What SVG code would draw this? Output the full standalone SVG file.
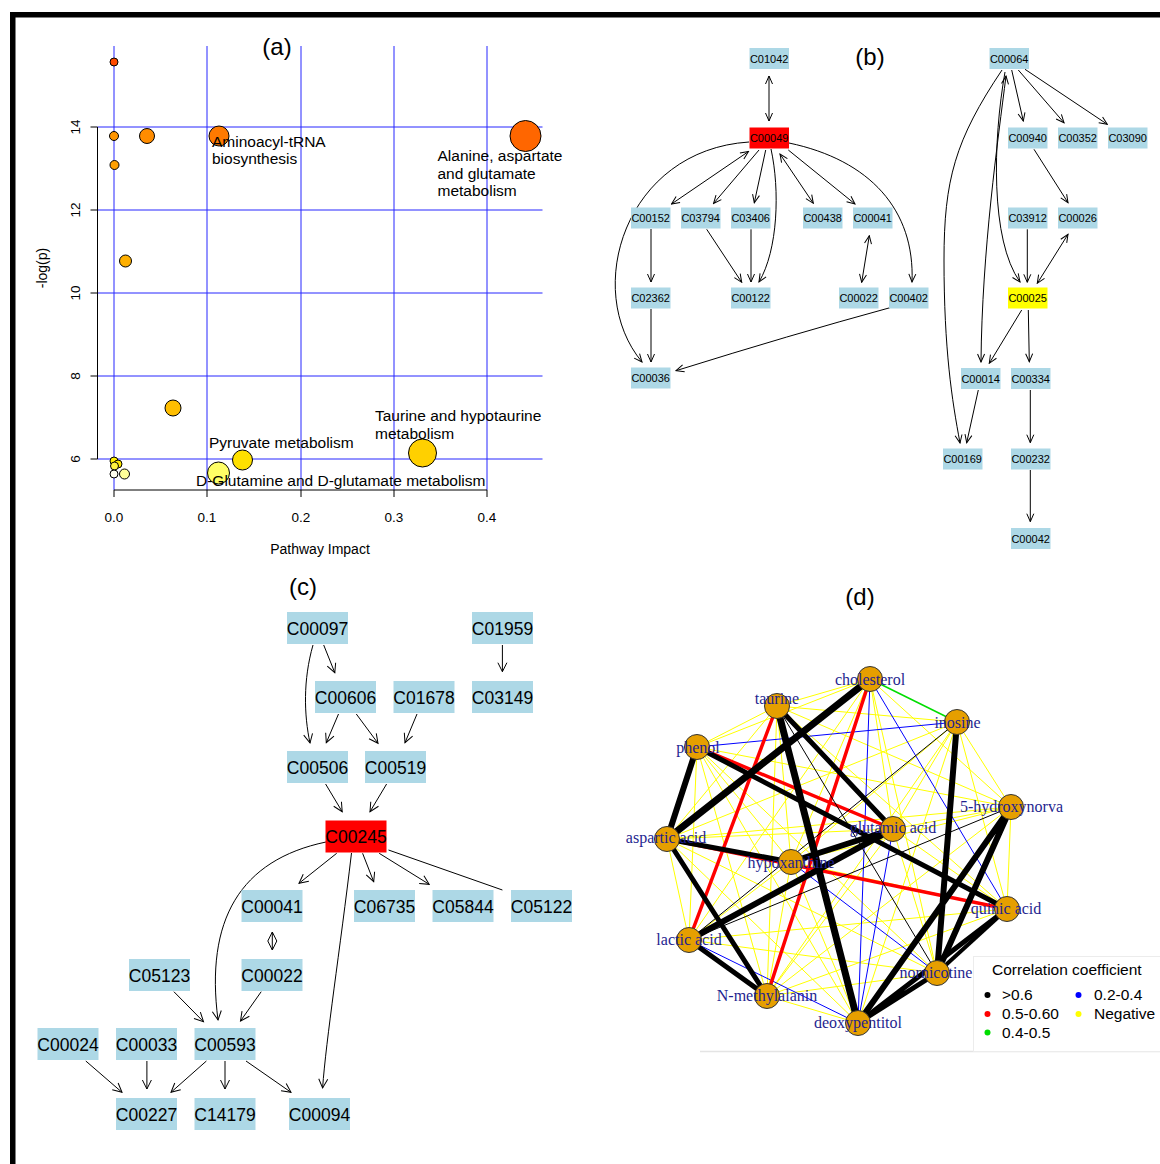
<svg xmlns="http://www.w3.org/2000/svg" width="1160" height="1164" viewBox="0 0 1160 1164">
<style>
text{font-family:"Liberation Sans",Arial,sans-serif;fill:#000}
.ttl{font-size:24px;text-anchor:middle}
.tick{font-size:13.5px;text-anchor:middle}
.xl{font-size:14px;text-anchor:middle}
.lab{font-size:15.5px}
.grid{stroke:#2626ff;stroke-width:1}
.ax{stroke:#000;stroke-width:1;fill:none}
.pt{stroke:#000;stroke-width:1}
.nb rect{fill:#ADD8E6}
.nb text{font-size:11px;text-anchor:middle}
.nc rect{fill:#ADD8E6}
.nc text{font-size:17.5px;text-anchor:middle}
.e{stroke:#000;stroke-width:1;fill:none}
.eb{marker-end:url(#ah)}
.ed{marker-end:url(#ah);marker-start:url(#ah)}
.ec{marker-end:url(#ahc)}
.ecd{marker-end:url(#ahc);marker-start:url(#ahc)}
.nd circle{fill:#E69F00;stroke:#333;stroke-width:1}
.nd text{font-family:"Liberation Serif","Times New Roman",serif;font-size:16px;fill:#1f1f8f;text-anchor:middle}
.y{stroke:#FFFF00;stroke-width:1}
.bl{stroke:#0000FF;stroke-width:1}
.g{stroke:#00DD00;stroke-width:1.5}
.r{stroke:#FF0000;stroke-width:3.5}
.k{stroke:#000}
.leg{font-size:15.5px}
</style>
<defs>
<marker id="ah" markerUnits="userSpaceOnUse" markerWidth="10" markerHeight="10" refX="9" refY="5" orient="auto-start-reverse">
<path d="M1,1.5 L9,5 L1,8.5" fill="none" stroke="#000" stroke-width="1"/>
</marker>
<marker id="ahc" markerUnits="userSpaceOnUse" markerWidth="12" markerHeight="12" refX="10" refY="6" orient="auto-start-reverse">
<path d="M1,1.5 L10,6 L1,10.5" fill="none" stroke="#000" stroke-width="1"/>
</marker>
</defs>
<rect width="1160" height="1164" fill="#fff"/>
<!-- frame -->
<rect x="10" y="12" width="1150" height="5.5" fill="#000"/>
<rect x="10" y="12" width="5.5" height="1152" fill="#000"/>

<!-- Panel (a) -->
<g id="panel-a">
<text class="ttl" x="277" y="55">(a)</text>
<g id="grid-a">
<line class="grid" x1="114" y1="46" x2="114" y2="490"/>
<line class="grid" x1="207" y1="46" x2="207" y2="490"/>
<line class="grid" x1="301" y1="46" x2="301" y2="490"/>
<line class="grid" x1="394" y1="46" x2="394" y2="490"/>
<line class="grid" x1="487" y1="46" x2="487" y2="490"/>
<line class="grid" x1="97.5" y1="127" x2="542.5" y2="127"/>
<line class="grid" x1="97.5" y1="210" x2="542.5" y2="210"/>
<line class="grid" x1="97.5" y1="293" x2="542.5" y2="293"/>
<line class="grid" x1="97.5" y1="376" x2="542.5" y2="376"/>
<line class="grid" x1="97.5" y1="459" x2="542.5" y2="459"/>
</g>
<g id="axes-a">
<path class="ax" d="M97.5,127 V459 M90.5,127 H97.5 M90.5,210 H97.5 M90.5,293 H97.5 M90.5,376 H97.5 M90.5,459 H97.5"/>
<path class="ax" d="M114,490 H487 M114,490 V497 M207,490 V497 M301,490 V497 M394,490 V497 M487,490 V497"/>
<text class="tick" transform="translate(80,127) rotate(-90)">14</text>
<text class="tick" transform="translate(80,210) rotate(-90)">12</text>
<text class="tick" transform="translate(80,293) rotate(-90)">10</text>
<text class="tick" transform="translate(80,376) rotate(-90)">8</text>
<text class="tick" transform="translate(80,459) rotate(-90)">6</text>
<text class="tick" x="114" y="522">0.0</text>
<text class="tick" x="207" y="522">0.1</text>
<text class="tick" x="301" y="522">0.2</text>
<text class="tick" x="394" y="522">0.3</text>
<text class="tick" x="487" y="522">0.4</text>
<text class="xl" x="320" y="554">Pathway Impact</text>
<text class="xl" transform="translate(47,268) rotate(-90)">-log(p)</text>
</g>
<g id="points-a">
<circle class="pt" cx="114" cy="62" r="4" fill="#FF4A00"/>
<circle class="pt" cx="114" cy="136" r="4.5" fill="#FF9500"/>
<circle class="pt" cx="147" cy="136" r="7.5" fill="#FF8C00"/>
<circle class="pt" cx="219" cy="136" r="10" fill="#FF7A00"/>
<circle class="pt" cx="525.5" cy="136" r="15.5" fill="#FF6600"/>
<circle class="pt" cx="114.5" cy="165" r="4.5" fill="#FFA000"/>
<circle class="pt" cx="125.5" cy="261" r="6" fill="#FFB000"/>
<circle class="pt" cx="173" cy="408" r="8" fill="#FFBE00"/>
<circle class="pt" cx="242.5" cy="460" r="10" fill="#FFE000"/>
<circle class="pt" cx="422.5" cy="453" r="14" fill="#FFD000"/>
<circle class="pt" cx="218.5" cy="473" r="11" fill="#FFFF66"/>
<circle class="pt" cx="114" cy="461" r="4" fill="#FFEE00"/>
<circle class="pt" cx="118" cy="464" r="4" fill="#FFE800"/>
<circle class="pt" cx="114.5" cy="466" r="4" fill="#FFF440"/>
<circle class="pt" cx="124.5" cy="474" r="5" fill="#FFFF99"/>
<circle class="pt" cx="114" cy="474" r="4" fill="#FFFFF0"/>
</g>
<g id="labels-a">
<text class="lab" x="212" y="147">Aminoacyl-tRNA</text>
<text class="lab" x="212" y="164">biosynthesis</text>
<text class="lab" x="437.5" y="161">Alanine, aspartate</text>
<text class="lab" x="437.5" y="178.5">and glutamate</text>
<text class="lab" x="437.5" y="196">metabolism</text>
<text class="lab" x="375" y="421">Taurine and hypotaurine</text>
<text class="lab" x="375" y="438.5">metabolism</text>
<text class="lab" x="209" y="448">Pyruvate metabolism</text>
<text class="lab" x="196" y="486">D-Glutamine and D-glutamate metabolism</text>
</g>
</g>

<!-- Panel (b) -->
<text class="ttl" x="870" y="65">(b)</text>
<g id="edges-b">
<path class="e ed" d="M769,76 L769,121"/>
<path class="e ed" d="M748.5,151.5 L671.5,204"/>
<path class="e eb" d="M759,150 L713.5,203.5"/>
<path class="e eb" d="M765.7,150 L754.3,202.7"/>
<path class="e eb" d="M771,149 C780,190 778,250 759,282"/>
<path class="e ed" d="M780,154 L813.3,203.3"/>
<path class="e eb" d="M788.3,150 L855,204"/>
<path class="e eb" d="M789,143 C870,160 915,210 912,282"/>
<path class="e eb" d="M749,142 C625,150 582,290 642,362"/>
<path class="e eb" d="M651,229 L651,282"/>
<path class="e eb" d="M706.7,229.3 L741.7,282.3"/>
<path class="e eb" d="M751,229.3 L751,282"/>
<path class="e ed" d="M861.7,282.3 L869.3,235.7"/>
<path class="e eb" d="M651,309 L651,362"/>
<path class="e eb" d="M890,307.7 Q790,335 676,370.7"/>
<path class="e eb" d="M1011.7,70 L1023.3,121"/>
<path class="e eb" d="M1018.3,70 L1064,122.7"/>
<path class="e eb" d="M1025,69.3 L1107.3,124.3"/>
<path class="e eb" d="M1034,149.3 L1068,202.7"/>
<path class="e eb" d="M1027.3,229.3 L1027.3,282.3"/>
<path class="e ed" d="M1068,234.3 L1037.3,283.3"/>
<path class="e eb" d="M1005,72 C993,140 990,240 1020,282"/>
<path class="e ed" d="M1006,76 C998,140 982,250 981,362"/>
<path class="e eb" d="M1002,70 C955,140 944,180 944,260 C944,350 952,400 960,443"/>
<path class="e eb" d="M1021.7,310 L989.3,363.3"/>
<path class="e eb" d="M1028.3,310 L1029.3,361.7"/>
<path class="e eb" d="M978.3,390 L966.7,442.7"/>
<path class="e eb" d="M1030.3,390 L1030.3,442.7"/>
<path class="e eb" d="M1030.3,470 L1030.3,521.7"/>
</g>
<g id="b-C01042" class="nb"><rect x="749.5" y="48" width="39.5" height="21"/><text x="769.2" y="62.5">C01042</text></g>
<g id="b-C00049" class="nb"><rect x="749.5" y="127.5" width="39.5" height="21" style="fill:#FF0000"/><text x="769.2" y="142">C00049</text></g>
<g id="b-C00152" class="nb"><rect x="631" y="207.5" width="39.5" height="21"/><text x="650.7" y="222">C00152</text></g>
<g id="b-C03794" class="nb"><rect x="681" y="207.5" width="39.5" height="21"/><text x="700.7" y="222">C03794</text></g>
<g id="b-C03406" class="nb"><rect x="731" y="207.5" width="39.5" height="21"/><text x="750.7" y="222">C03406</text></g>
<g id="b-C00438" class="nb"><rect x="803" y="207.5" width="39.5" height="21"/><text x="822.7" y="222">C00438</text></g>
<g id="b-C00041" class="nb"><rect x="853" y="207.5" width="39.5" height="21"/><text x="872.7" y="222">C00041</text></g>
<g id="b-C02362" class="nb"><rect x="631" y="287.5" width="39.5" height="21"/><text x="650.7" y="302">C02362</text></g>
<g id="b-C00122" class="nb"><rect x="731" y="287.5" width="39.5" height="21"/><text x="750.7" y="302">C00122</text></g>
<g id="b-C00022" class="nb"><rect x="839" y="287.5" width="39.5" height="21"/><text x="858.7" y="302">C00022</text></g>
<g id="b-C00402" class="nb"><rect x="889" y="287.5" width="39.5" height="21"/><text x="908.7" y="302">C00402</text></g>
<g id="b-C00036" class="nb"><rect x="631" y="367.5" width="39.5" height="21"/><text x="650.7" y="382">C00036</text></g>
<g id="b-C00064" class="nb"><rect x="989.5" y="48" width="39.5" height="21"/><text x="1009.2" y="62.5">C00064</text></g>
<g id="b-C00940" class="nb"><rect x="1008" y="127.5" width="39.5" height="21"/><text x="1027.7" y="142">C00940</text></g>
<g id="b-C00352" class="nb"><rect x="1058" y="127.5" width="39.5" height="21"/><text x="1077.7" y="142">C00352</text></g>
<g id="b-C03090" class="nb"><rect x="1108" y="127.5" width="39.5" height="21"/><text x="1127.7" y="142">C03090</text></g>
<g id="b-C03912" class="nb"><rect x="1008" y="207.5" width="39.5" height="21"/><text x="1027.7" y="222">C03912</text></g>
<g id="b-C00026" class="nb"><rect x="1058" y="207.5" width="39.5" height="21"/><text x="1077.7" y="222">C00026</text></g>
<g id="b-C00025" class="nb"><rect x="1008" y="287.5" width="39.5" height="21" style="fill:#FFFF00"/><text x="1027.7" y="302">C00025</text></g>
<g id="b-C00014" class="nb"><rect x="961" y="368" width="39.5" height="21"/><text x="980.7" y="382.5">C00014</text></g>
<g id="b-C00334" class="nb"><rect x="1011" y="368" width="39.5" height="21"/><text x="1030.7" y="382.5">C00334</text></g>
<g id="b-C00169" class="nb"><rect x="943" y="448.5" width="39.5" height="21"/><text x="962.7" y="463">C00169</text></g>
<g id="b-C00232" class="nb"><rect x="1011" y="448.5" width="39.5" height="21"/><text x="1030.7" y="463">C00232</text></g>
<g id="b-C00042" class="nb"><rect x="1011" y="528" width="39.5" height="21"/><text x="1030.7" y="542.5">C00042</text></g>

<!-- Panel (c) -->
<text class="ttl" x="303" y="595">(c)</text>
<g id="edges-c">
<path class="e ec" d="M313,645 C303,680 304,715 310,743"/>
<path class="e ec" d="M323.7,645 L334.8,672.7"/>
<path class="e ec" d="M338.5,714 L326.3,742.7"/>
<path class="e ec" d="M356.3,714 L378,743.3"/>
<path class="e ec" d="M417,714 L405,742.7"/>
<path class="e ec" d="M502.4,645 L502.4,671.7"/>
<path class="e ec" d="M325.6,784 L342.2,811.7"/>
<path class="e ec" d="M386.6,784 L370,811.7"/>
<path class="e ec" d="M336.7,853.3 L299,883.3"/>
<path class="e ec" d="M362.6,853.3 L373.7,881.7"/>
<path class="e ec" d="M379.2,853.3 L429.2,884.3"/>
<path class="e" d="M388.5,850 L502.4,890"/>
<path class="e ec" d="M326,842 C240,860 205,920 218,1020"/>
<path class="e ec" d="M351.5,853 C340,950 326,1040 322.6,1088"/>
<path class="e ecd" d="M272.3,932 L272.3,950"/>
<path class="e ec" d="M173.9,991.7 L203.5,1021.7"/>
<path class="e ec" d="M261.2,991.7 L240.5,1021"/>
<path class="e ec" d="M85.8,1061 L122,1092.3"/>
<path class="e ec" d="M146.9,1061 L146.9,1089"/>
<path class="e ec" d="M206.4,1061 L171,1092.3"/>
<path class="e ec" d="M225,1061 L225,1089"/>
<path class="e ec" d="M246,1061 L291,1092.3"/>
</g>
<g id="c-C00097" class="nc"><rect x="287" y="612" width="61" height="32"/><text x="317.5" y="634.5">C00097</text></g>
<g id="c-C01959" class="nc"><rect x="472" y="612" width="61" height="32"/><text x="502.5" y="634.5">C01959</text></g>
<g id="c-C00606" class="nc"><rect x="315" y="681" width="61" height="32"/><text x="345.5" y="703.5">C00606</text></g>
<g id="c-C01678" class="nc"><rect x="393.5" y="681" width="61" height="32"/><text x="424" y="703.5">C01678</text></g>
<g id="c-C03149" class="nc"><rect x="472" y="681" width="61" height="32"/><text x="502.5" y="703.5">C03149</text></g>
<g id="c-C00506" class="nc"><rect x="287" y="751" width="61" height="32"/><text x="317.5" y="773.5">C00506</text></g>
<g id="c-C00519" class="nc"><rect x="365" y="751" width="61" height="32"/><text x="395.5" y="773.5">C00519</text></g>
<g id="c-C00245" class="nc"><rect x="325.5" y="820.5" width="61" height="32" style="fill:#FF0000"/><text x="356" y="843">C00245</text></g>
<g id="c-C00041" class="nc"><rect x="241.5" y="890" width="61" height="32"/><text x="272" y="912.5">C00041</text></g>
<g id="c-C06735" class="nc"><rect x="354" y="890" width="61" height="32"/><text x="384.5" y="912.5">C06735</text></g>
<g id="c-C05844" class="nc"><rect x="432.5" y="890" width="61" height="32"/><text x="463" y="912.5">C05844</text></g>
<g id="c-C05122" class="nc"><rect x="511" y="890" width="61" height="32"/><text x="541.5" y="912.5">C05122</text></g>
<g id="c-C05123" class="nc"><rect x="129" y="959" width="61" height="32"/><text x="159.5" y="981.5">C05123</text></g>
<g id="c-C00022" class="nc"><rect x="241.5" y="959" width="61" height="32"/><text x="272" y="981.5">C00022</text></g>
<g id="c-C00024" class="nc"><rect x="37.5" y="1028" width="61" height="32"/><text x="68" y="1050.5">C00024</text></g>
<g id="c-C00033" class="nc"><rect x="116" y="1028" width="61" height="32"/><text x="146.5" y="1050.5">C00033</text></g>
<g id="c-C00593" class="nc"><rect x="194.5" y="1028" width="61" height="32"/><text x="225" y="1050.5">C00593</text></g>
<g id="c-C00227" class="nc"><rect x="116" y="1098" width="61" height="32"/><text x="146.5" y="1120.5">C00227</text></g>
<g id="c-C14179" class="nc"><rect x="194.5" y="1098" width="61" height="32"/><text x="225" y="1120.5">C14179</text></g>
<g id="c-C00094" class="nc"><rect x="289" y="1098" width="61" height="32"/><text x="319.5" y="1120.5">C00094</text></g>

<!-- Panel (d) -->
<text class="ttl" x="860" y="605">(d)</text>
<line x1="700" y1="1051.5" x2="1160" y2="1051.5" stroke="#e4e4e4" stroke-width="1.5"/>
<g id="edges-d" fill="none">
<g id="neg">
<path class="y" d="M870,679 L777,706 M870,679 L697,747 M870,679 L1011,807 M870,679 L893,829 M870,679 L791,862 M870,679 L689,940 M870,679 L937,973"/>
<path class="y" d="M777,706 L957,722 M777,706 L697,747 M777,706 L1011,807 M777,706 L667,839 M777,706 L791,862 M777,706 L1007,909 M777,706 L767,996"/>
<path class="y" d="M957,722 L1011,807 M957,722 L893,829 M957,722 L667,839 M957,722 L791,862 M957,722 L1007,909 M957,722 L767,996 M957,722 L858,1023"/>
<path class="y" d="M697,747 L1011,807 M697,747 L791,862 M697,747 L689,940 M697,747 L937,973 M697,747 L767,996 M697,747 L858,1023"/>
<path class="y" d="M1011,807 L893,829 M1011,807 L667,839 M1011,807 L791,862 M1011,807 L1007,909 M1011,807 L767,996"/>
<path class="y" d="M893,829 L667,839 M893,829 L1007,909 M893,829 L937,973 M893,829 L767,996"/>
<path class="y" d="M667,839 L689,940 M667,839 L937,973 M667,839 L858,1023"/>
<path class="y" d="M791,862 L1007,909 M791,862 L689,940 M791,862 L767,996 M791,862 L858,1023"/>
<path class="y" d="M1007,909 L689,940 M1007,909 L767,996 M689,940 L937,973 M937,973 L767,996 M767,996 L858,1023"/>
</g>
<g id="pos-blue">
<path class="bl" d="M697,747 L957,722 M870,679 L858,1023 M870,679 L1007,909 M689,940 L858,1023 M791,862 L937,973 M893,829 L858,1023"/>
</g>
<path id="pos-green" class="g" d="M870,679 L957,722"/>
<g id="pos-red">
<path class="r" d="M777,706 L689,940 M870,679 L767,996 M697,747 L893,829 M667,839 L1007,909"/>
</g>
<g id="pos-black" class="k">
<path stroke-width="7" d="M870,679 L667,839 M777,706 L858,1023"/>
<path stroke-width="6" d="M697,747 L667,839 M893,829 L689,940 M893,829 L791,862 M957,722 L937,973 M1011,807 L937,973 M1011,807 L858,1023"/>
<path stroke-width="5" d="M777,706 L893,829 M697,747 L1007,909 M667,839 L791,862 M667,839 L767,996 M689,940 L767,996 M858,1023 L1007,909 M937,973 L858,1023"/>
<path stroke-width="4" d="M937,973 L1007,909"/>
<path stroke-width="1" d="M777,706 L937,973 M689,940 L957,722 M689,940 L1011,807"/>
</g>
</g>
<g id="d-cholesterol" class="nd"><circle cx="870" cy="679" r="12.5"/><text x="870" y="685">cholesterol</text></g>
<g id="d-taurine" class="nd"><circle cx="777" cy="706" r="12.5"/><text x="777" y="704">taurine</text></g>
<g id="d-inosine" class="nd"><circle cx="957" cy="722" r="12.5"/><text x="957.5" y="728">inosine</text></g>
<g id="d-phenol" class="nd"><circle cx="697" cy="747" r="12.5"/><text x="698" y="752.5">phenol</text></g>
<g id="d-5-hydroxynorva" class="nd"><circle cx="1011" cy="807" r="12.5"/><text x="1011.5" y="812">5-hydroxynorva</text></g>
<g id="d-glutamic-acid" class="nd"><circle cx="893" cy="829" r="12.5"/><text x="893" y="833">glutamic acid</text></g>
<g id="d-aspartic-acid" class="nd"><circle cx="667" cy="839" r="12.5"/><text x="666" y="843">aspartic acid</text></g>
<g id="d-hypoxanthine" class="nd"><circle cx="791" cy="862" r="12.5"/><text x="791" y="867.5">hypoxanthine</text></g>
<g id="d-quinic-acid" class="nd"><circle cx="1007" cy="909" r="12.5"/><text x="1006" y="914">quinic acid</text></g>
<g id="d-lactic-acid" class="nd"><circle cx="689" cy="940" r="12.5"/><text x="689" y="945">lactic acid</text></g>
<g id="d-nornicotine" class="nd"><circle cx="937" cy="973" r="12.5"/><text x="936" y="978">nornicotine</text></g>
<g id="d-N-methylalanin" class="nd"><circle cx="767" cy="996" r="12.5"/><text x="767" y="1001">N-methylalanin</text></g>
<g id="d-deoxypentitol" class="nd"><circle cx="858" cy="1023" r="12.5"/><text x="858" y="1028">deoxypentitol</text></g>
<g id="legend-d">
<rect x="973.5" y="956.5" width="190" height="95" fill="#fff" stroke="#ececec" stroke-width="1"/>
<text class="leg" x="992" y="975">Correlation coefficient</text>
<circle cx="987.5" cy="995" r="3" fill="#000"/><text class="leg" x="1002" y="1000">&gt;0.6</text>
<circle cx="987.5" cy="1014" r="3" fill="#FF0000"/><text class="leg" x="1002" y="1019">0.5-0.60</text>
<circle cx="987.5" cy="1032.5" r="3" fill="#00DD00"/><text class="leg" x="1002" y="1038">0.4-0.5</text>
<circle cx="1078.5" cy="995" r="3" fill="#0000FF"/><text class="leg" x="1094" y="1000">0.2-0.4</text>
<circle cx="1078.5" cy="1014" r="3" fill="#FFFF00"/><text class="leg" x="1094" y="1019">Negative</text>
</g>
</svg>
